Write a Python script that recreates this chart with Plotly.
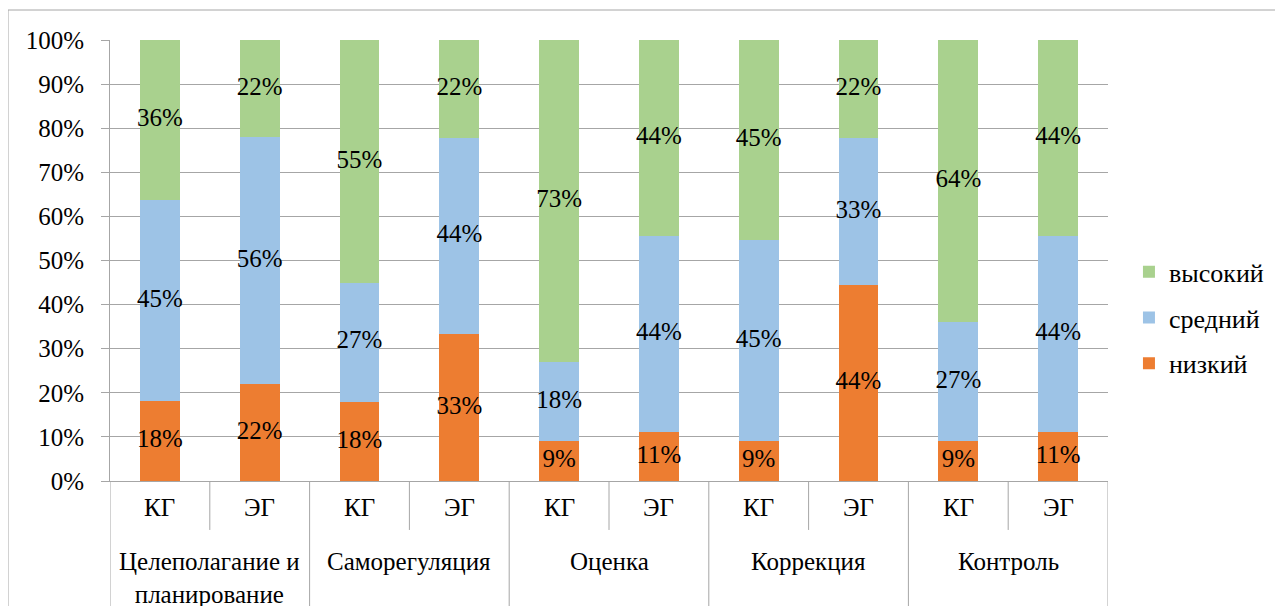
import plotly.graph_objects as go

groups = ["Целеполагание и<br>планирование", "Саморегуляция", "Оценка", "Коррекция", "Контроль"]
subgroups = ["КГ", "ЭГ"]
series_names = ["низкий", "средний", "высокий"]
legend_ranks = [3, 2, 1]
colors = ["#ED7D31", "#9DC3E6", "#A9D18E"]

low = [18, 22, 18, 33, 9, 11, 9, 44, 9, 11]
mid = [45, 56, 27, 44, 18, 44, 45, 33, 27, 44]
high = [36, 22, 55, 22, 73, 44, 45, 22, 64, 44]

cats = [f"{g}|{s}" for g in groups for s in subgroups]
series = [low, mid, high]

FONT = "'Liberation Serif', 'Times New Roman', 'DejaVu Serif', serif"
GRAY = "#A6A6A6"
FS = 25

fig = go.Figure()
for name, vals, col, rk in zip(series_names, series, colors, legend_ranks):
    fig.add_trace(go.Bar(
        x=cats, y=vals, name=name, marker_color=col, marker_line_width=0,
        width=0.4, legendgroup=name, legendrank=rk, hoverinfo="skip"))

# data labels at segment centres (normalised like a 100% stacked chart)
totals = [sum(s[i] for s in series) for i in range(len(cats))]
base = [0.0] * len(cats)
for vals in series:
    ys = []
    for i, v in enumerate(vals):
        frac = v / totals[i] * 100
        ys.append(base[i] + frac / 2)
        base[i] += frac
    fig.add_trace(go.Scatter(
        x=cats, y=ys, mode="text", text=[f"{v}%" for v in vals],
        textfont=dict(family=FONT, size=FS, color="black"),
        showlegend=False, hoverinfo="skip", cliponaxis=False))

shapes = []
n = len(cats)
# separators under axis
for i in range(n + 1):
    xb = i - 0.5
    is_group = (i % len(subgroups) == 0)
    shapes.append(dict(type="line", xref="x", yref="paper", x0=xb, x1=xb,
                       y0=0, y1=-0.288 if is_group else -0.111,
                       line=dict(color=GRAY, width=1)))
# outer border
shapes.append(dict(type="rect", xref="paper", yref="paper",
                   x0=-0.1022, x1=1.175, y0=1.068, y1=-0.5,
                   line=dict(color=GRAY, width=1), layer="below"))

annotations = []
for i, c in enumerate(cats):
    annotations.append(dict(x=i, y=-0.059, xref="x", yref="paper",
                            text=c.split("|")[1], showarrow=False,
                            yanchor="middle",
                            font=dict(family=FONT, size=FS, color="black")))
for gi, g in enumerate(groups):
    annotations.append(dict(x=gi * 2 + 0.5, y=-0.148, xref="x", yref="paper",
                            text=g, showarrow=False, yanchor="top",
                            font=dict(family=FONT, size=FS, color="black")))

fig.update_layout(
    width=1275, height=598,
    margin=dict(l=102, r=175, t=32, b=125),
    barmode="stack", barnorm="percent",
    plot_bgcolor="white", paper_bgcolor="white",
    font=dict(family=FONT, size=FS, color="black"),
    shapes=shapes, annotations=annotations,
    legend=dict(x=1.021, y=0.37, xanchor="left", yanchor="middle",
                traceorder="grouped", tracegroupgap=9,
                font=dict(family=FONT, size=26, color="black")),
    xaxis=dict(type="category", categoryorder="array", categoryarray=cats,
               range=[-0.5, n - 0.5], showticklabels=False, showgrid=False,
               showline=True, linecolor=GRAY, ticks=""),
    yaxis=dict(range=[0, 100], tickvals=list(range(0, 101, 10)),
               ticktext=[f"{v}%" for v in range(0, 101, 10)],
               showgrid=True, gridcolor=GRAY, gridwidth=1,
               showline=True, linecolor=GRAY, ticks="outside", ticklen=8,
               tickcolor=GRAY, ticklabelstandoff=12, zeroline=False),
)

fig.write_html("out.html", config={"responsive": False})
